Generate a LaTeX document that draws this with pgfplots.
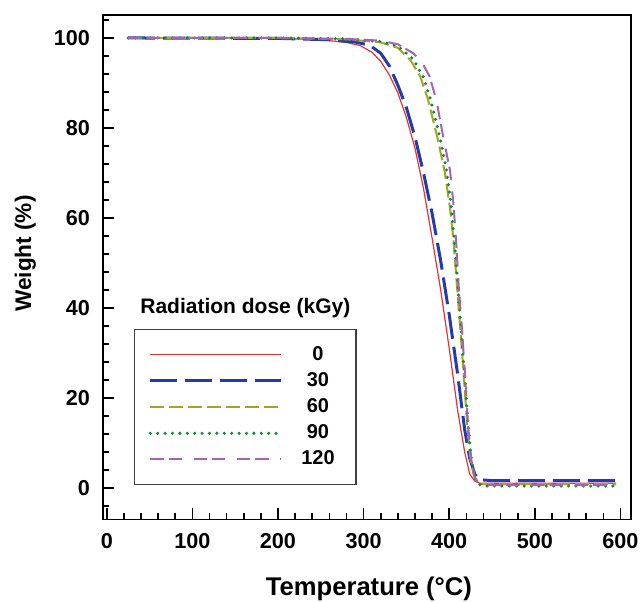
\documentclass[border=0pt]{standalone}
\usepackage{fontspec}
\setmainfont{Liberation Sans}
\usepackage{pgfplots}
\pgfplotsset{compat=1.18}
\definecolor{cred}{RGB}{232,50,50}
\definecolor{cblue}{RGB}{35,60,170}
\definecolor{colive}{RGB}{165,165,35}
\definecolor{cgreen}{RGB}{10,140,50}
\definecolor{cpurple}{RGB}{165,100,175}
\begin{document}
\begin{tikzpicture}
\begin{axis}[
  scale only axis, width=263.85pt, height=252.15pt,
  xmin=-4.4, xmax=612, ymin=-7, ymax=105.1,
  tick pos=left, tick align=inside,
  xtick={0,100,...,600}, ytick={0,20,...,100},
  minor xtick={20,40,60,80,120,140,160,180,220,240,260,280,320,340,360,380,420,440,460,480,520,540,560,580},
  minor ytick={-4,4,8,12,16,24,28,32,36,44,48,52,56,64,68,72,76,84,88,92,96,104},
  major tick length=5.5pt, minor tick length=3pt,
  every tick/.style={line width=0.8pt, black},
  axis line style={line width=0.8pt},
  ticklabel style={font=\fontsize{10.8}{12}\selectfont\bfseries},
  /pgf/number format/assume math mode=true,
  xticklabel style={yshift=-3.5pt},
  yticklabel style={xshift=-3pt},
  xlabel={Temperature (°C)},
  ylabel={Weight (\%)},
  xlabel style={font=\fontsize{12.8}{15}\selectfont\bfseries, at={(axis description cs:0.504,-0.152)}, anchor=base},
  ylabel style={font=\fontsize{11.3}{13}\selectfont\bfseries, at={(axis description cs:-0.147,0.527)}, anchor=center},
  legend style={at={(axis description cs:0.0587,0.3774)}, anchor=north west, draw=black!75, line width=0.6pt,
    inner xsep=7pt, inner ysep=6pt, row sep=0pt, font=\fontsize{10}{12}\selectfont\bfseries,
    nodes={inner sep=0pt, minimum height=13.1pt},
    /tikz/every odd column/.append style={column sep=5.5pt}},
  legend cell align=left,
  legend image code/.code={\draw[#1] (0pt,0pt) -- (65.5pt,0pt);},
]
\addplot[cred, line width=0.6pt] table {
T W
25 100
100 100
200 99.9
250 99.6
280 99.0
296 98.3
310 96.8
320 94.8
330 91.8
340 87.8
350 82.3
360 75.5
370 66.5
380 55.5
390 44
400 31
410 17
418 8
424 3
430 1.5
436 1.0
450 1.0
500 1.0
595 1.0
};
\addlegendentry{\makebox[24pt][c]{0}}
\addplot[cblue, line width=1.5pt, dash pattern=on 13.5pt off 4pt] table {
T W
25 100
200 99.9
260 99.6
290 99.1
307 98.4
320 96.6
330 93.8
340 89.5
350 84.5
360 78
370 70
380 61
390 50.5
400 38.5
410 25
418 13
424 6.5
430 3
436 1.8
450 1.6
595 1.6
};
\addlegendentry{\makebox[24pt][c]{30}}
\addplot[colive, line width=1pt, dash pattern=on 7pt off 2.5pt] table {
T W
25 100
200 100
280 99.7
320 99.0
340 97.8
355 95.0
366 91.5
375 86.5
386 78
395 70
401 62
405 55
409 45
413 35
417 25
421 14
425 6
429 2.5
434 1.0
440 0.8
595 0.8
};
\addlegendentry{\makebox[24pt][c]{60}}
\addplot[cgreen, line width=1.7pt, line cap=round, dash pattern=on 0pt off 3.7pt] table {
T W
25 100
200 100
280 99.8
320 99.2
340 98.2
358 95.3
370 91.2
378 86.5
389 78
397 70.5
402 63
406 55
410 45
414 35
418 25
422 14
426 6
430 2.3
434 0.8
440 0.4
595 0.4
};
\addlegendentry{\makebox[24pt][c]{90}}
\addplot[cpurple, line width=1pt, dash pattern=on 6.7pt off 2.5pt on 6.7pt off 5.8pt] table {
T W
25 100
200 100
280 99.8
320 99.4
340 98.6
358 96.6
368 94.6
377 91.5
385 86.2
393 78
401 70.5
405 63
408 55
411 45
415 35
418.5 25
422 14
426 6
430 2.3
434 0.9
440 0.6
595 0.6
};
\addlegendentry{\makebox[24pt][c]{120}}
\node[anchor=base west, font=\fontsize{10.5}{12}\selectfont\bfseries, inner sep=0pt] at (axis cs:38.8,38.8) {Radiation dose (kGy)};
\end{axis}
\pgfresetboundingbox
\path (current axis.south west) ++(-51.5pt,-40.85pt) rectangle ++(320pt,300.5pt);
\end{tikzpicture}
\end{document}
